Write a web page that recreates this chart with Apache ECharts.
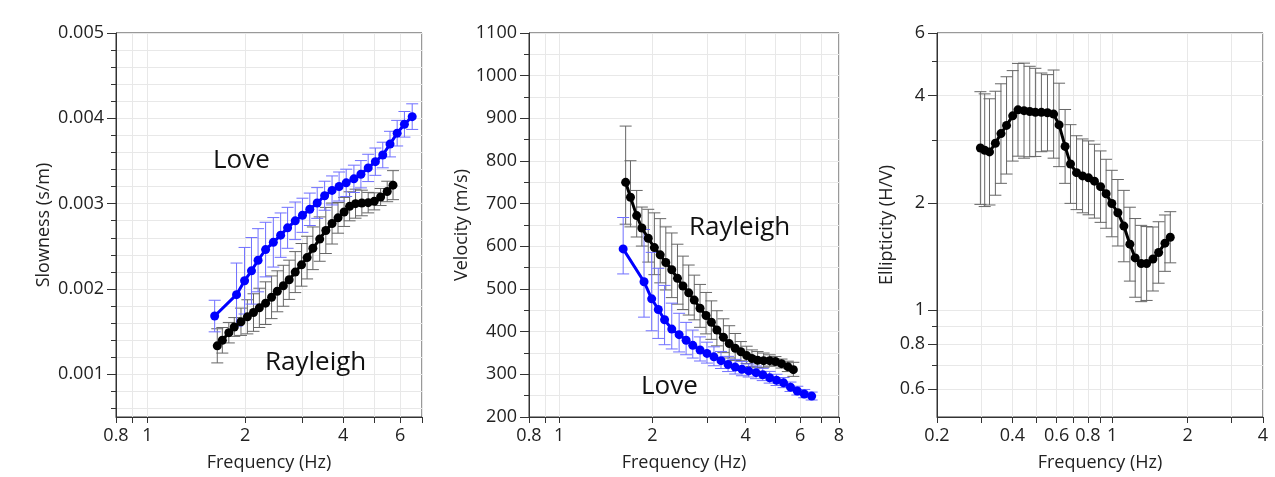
<!DOCTYPE html>
<html>
<head>
<meta charset="utf-8">
<script src="https://cdn.jsdelivr.net/npm/echarts@6/dist/echarts.min.js"></script>
<style>
html, body { margin: 0; padding: 0; background: #fff; }
#main { width: 1275px; height: 477px; }
</style>
</head>
<body>
<div id="main"></div>
<script>
// Rayleigh / Love dispersion curves + ellipticity
var rayFreq = [1.64, 1.70, 1.78, 1.85, 1.94, 2.03, 2.12, 2.21, 2.31, 2.41, 2.51, 2.62, 2.73, 2.85, 2.98,
    3.10, 3.23, 3.39, 3.54, 3.70, 3.86, 4.03, 4.19, 4.37, 4.57, 4.78, 4.99, 5.22, 5.47, 5.70];
var raySlow = [0.001334, 0.001399, 0.001488, 0.001555, 0.001616, 0.001674, 0.001724, 0.001779, 0.001834, 0.001903,
    0.001973, 0.002038, 0.002108, 0.002198, 0.002283, 0.002368, 0.002477, 0.002585, 0.002686, 0.002767,
    0.002834, 0.002903, 0.002969, 0.003000, 0.003008, 0.003012, 0.003027, 0.003078, 0.003143, 0.003217];
var raySlowStd = [0.00020, 0.00015, 0.00012, 0.00011, 0.00016, 0.00020, 0.00022, 0.00023, 0.00025, 0.00025,
    0.00024, 0.00024, 0.00023, 0.00024, 0.00025, 0.00025, 0.00025, 0.00026, 0.00027, 0.00024,
    0.00018, 0.00017, 0.00017, 0.00017, 0.00015, 0.00012, 0.00010, 0.00010, 0.00012, 0.00017];
var rayVel = [750, 715, 672, 643, 619, 597, 580, 562, 545, 525, 507, 491, 474, 455, 438,
    422, 404, 387, 372, 361, 353, 344, 337, 333, 332, 332, 330, 325, 318, 311];

var loveFreq = [1.61, 1.88, 1.99, 2.09, 2.19, 2.31, 2.44, 2.57, 2.70, 2.85, 3.00, 3.16, 3.33, 3.51, 3.70,
    3.89, 4.09, 4.32, 4.54, 4.78, 5.03, 5.30, 5.58, 5.87, 6.18, 6.53];
var loveSlow = [0.001683, 0.001934, 0.002097, 0.002213, 0.002337, 0.002462, 0.002547, 0.002631, 0.002717, 0.002799,
    0.002864, 0.002934, 0.003008, 0.003093, 0.003155, 0.003201, 0.003244, 0.003291, 0.003345, 0.003419,
    0.003492, 0.003570, 0.003698, 0.003826, 0.003930, 0.004020];
var loveSlowStd = [0.000185, 0.00037, 0.00039, 0.00039, 0.00037, 0.00032, 0.00029, 0.00026, 0.00024, 0.00022,
    0.00020, 0.00019, 0.00018, 0.00017, 0.00017, 0.00017, 0.00016, 0.00016, 0.00016, 0.00016,
    0.00016, 0.00015, 0.00015, 0.00015, 0.00015, 0.00015];
var loveVel = [594, 517, 477, 452, 428, 406, 393, 380, 368, 357, 349, 341, 332, 323, 317,
    312, 308, 304, 299, 292, 286, 280, 270, 261, 254, 249];

var ellFreq = [0.298, 0.310, 0.324, 0.342, 0.360, 0.379, 0.401, 0.421, 0.445, 0.469, 0.494, 0.522, 0.552, 0.584,
    0.614, 0.649, 0.682, 0.721, 0.762, 0.805, 0.850, 0.899, 0.946, 0.997, 1.054, 1.114, 1.177, 1.236,
    1.306, 1.373, 1.455, 1.533, 1.625, 1.706];
var ellVal = [2.85, 2.81, 2.78, 2.94, 3.13, 3.30, 3.51, 3.65, 3.63, 3.61, 3.59, 3.59, 3.58, 3.55,
    3.31, 2.88, 2.57, 2.43, 2.38, 2.35, 2.30, 2.22, 2.12, 1.99, 1.875, 1.72, 1.53, 1.40,
    1.35, 1.35, 1.39, 1.45, 1.54, 1.60];
var ellStdFactor = [1.44, 1.44, 1.41, 1.40, 1.38, 1.37, 1.34, 1.35, 1.36, 1.34, 1.33, 1.29, 1.28, 1.33,
    1.31, 1.27, 1.29, 1.27, 1.27, 1.27, 1.27, 1.26, 1.25, 1.24, 1.24, 1.26, 1.27, 1.29,
    1.28, 1.27, 1.23, 1.22, 1.20, 1.18];

// tick labels / tick positions
var freqTicks1 = [0.8, 0.9, 1, 2, 3, 4, 5, 6, 7];
var freqLabels1 = [0.8, 1, 2, 4, 6];
var freqTicks2 = [0.8, 0.9, 1, 2, 3, 4, 5, 6, 7, 8];
var freqLabels2 = [0.8, 1, 2, 4, 6, 8];
var freqTicks3 = [0.2, 0.3, 0.4, 0.5, 0.6, 0.7, 0.8, 0.9, 1, 2, 3, 4];
var freqLabels3 = [0.2, 0.4, 0.6, 0.8, 1, 2, 4];
var slowLabels = [0.001, 0.002, 0.003, 0.004, 0.005];
var slowTicks = [0.0006, 0.0008, 0.001, 0.0012, 0.0014, 0.0016, 0.0018, 0.002, 0.0022, 0.0024, 0.0026, 0.0028,
    0.003, 0.0032, 0.0034, 0.0036, 0.0038, 0.004, 0.0042, 0.0044, 0.0046, 0.0048, 0.005];
var ellLabels = [0.6, 0.8, 1, 2, 4, 6];
var ellTicks = [0.6, 0.7, 0.8, 0.9, 1, 2, 3, 4, 5, 6];

var FONT = 'Open Sans';
var AXIS_COLOR = '#333';
var GRID_COLOR = '#e8e8e8';
var BLUE = '#0000ff';

function lineData(xs, ys) {
    var out = [];
    for (var i = 0; i < xs.length; i++) out.push([xs[i], ys[i]]);
    return out;
}

// error bars in slowness
function slowBars(xs, s, sd) {
    var out = [];
    for (var i = 0; i < xs.length; i++) out.push([xs[i], s[i] - sd[i], s[i] + sd[i]]);
    return out;
}
// same bars seen as velocity
function velBars(xs, s, sd) {
    var out = [];
    for (var i = 0; i < xs.length; i++) out.push([xs[i], 1 / (s[i] + sd[i]), 1 / (s[i] - sd[i])]);
    return out;
}
function ellBars(xs, v, f) {
    var out = [];
    for (var i = 0; i < xs.length; i++) out.push([xs[i], v[i] / f[i], v[i] * f[i]]);
    return out;
}

function errRender(color) {
    return function (params, api) {
        var x = api.value(0);
        var p1 = api.coord([x, api.value(1)]);
        var p2 = api.coord([x, api.value(2)]);
        var w = 6;
        var st = { stroke: color, lineWidth: 1 };
        return {
            type: 'group',
            children: [
                { type: 'line', shape: { x1: p1[0], y1: p1[1], x2: p2[0], y2: p2[1] }, style: st },
                { type: 'line', shape: { x1: p1[0] - w, y1: p1[1], x2: p1[0] + w, y2: p1[1] }, style: st },
                { type: 'line', shape: { x1: p2[0] - w, y1: p2[1], x2: p2[0] + w, y2: p2[1] }, style: st }
            ]
        };
    };
}

function errSeries(data, color, xi, yi) {
    return {
        type: 'custom', xAxisIndex: xi, yAxisIndex: yi, data: data,
        renderItem: errRender(color), encode: { x: 0, y: [1, 2] }, z: 2, silent: true
    };
}
function curveSeries(data, color, xi, yi) {
    return {
        type: 'line', xAxisIndex: xi, yAxisIndex: yi, data: data,
        symbol: 'circle', symbolSize: 9, showSymbol: true,
        lineStyle: { color: color, width: 3 }, itemStyle: { color: color }, z: 3, silent: true
    };
}

function plainNum(v) {
    return String(+(+v).toPrecision(6));
}

var labelStyle = { color: '#222', fontSize: 18, fontFamily: FONT };

function freqAxis(gi, min, max, ticks, labels) {
    return {
        type: 'log', logBase: 10, gridIndex: gi, min: min, max: max,
        name: 'Frequency (Hz)', nameLocation: 'middle', nameGap: 37,
        nameTextStyle: labelStyle,
        axisLine: { show: true, lineStyle: { color: AXIS_COLOR } },
        axisTick: { show: true, length: 6, customValues: ticks, lineStyle: { color: AXIS_COLOR } },
        axisLabel: Object.assign({ customValues: labels, margin: 10, formatter: plainNum }, labelStyle),
        splitLine: { show: true, lineStyle: { color: GRID_COLOR } }
    };
}

var textFont = '26px "Open Sans"';

var option = {
    animation: false,
    backgroundColor: '#fff',
    grid: [
        { left: 116, top: 33, width: 306, height: 386, show: true, borderColor: AXIS_COLOR, borderWidth: 1, backgroundColor: '#fff' },
        { left: 529, top: 33, width: 310, height: 386, show: true, borderColor: AXIS_COLOR, borderWidth: 1, backgroundColor: '#fff' },
        { left: 937, top: 33, width: 326, height: 386, show: true, borderColor: AXIS_COLOR, borderWidth: 1, backgroundColor: '#fff' }
    ],
    xAxis: [
        freqAxis(0, 0.8, 7, freqTicks1, freqLabels1),
        freqAxis(1, 0.8, 8, freqTicks2, freqLabels2),
        freqAxis(2, 0.2, 4, freqTicks3, freqLabels3)
    ],
    yAxis: [
        {   // slowness: labels + long ticks
            type: 'value', gridIndex: 0, min: 0.0005, max: 0.005, position: 'left',
            name: 'Slowness (s/m)', nameLocation: 'middle', nameGap: 63, nameTextStyle: labelStyle,
            axisLine: { show: true, lineStyle: { color: AXIS_COLOR } },
            axisTick: { show: true, length: 9, customValues: slowLabels, lineStyle: { color: AXIS_COLOR } },
            axisLabel: Object.assign({ customValues: slowLabels, margin: 12, formatter: plainNum }, labelStyle),
            splitLine: { show: false }
        },
        {   // slowness: minor ticks + grid
            type: 'value', gridIndex: 0, min: 0.0005, max: 0.005, position: 'left',
            axisLine: { show: false },
            axisTick: { show: true, length: 5, customValues: slowTicks, lineStyle: { color: AXIS_COLOR } },
            axisLabel: { show: false },
            splitLine: { show: true, lineStyle: { color: GRID_COLOR } }
        },
        {   // velocity
            type: 'value', gridIndex: 1, min: 200, max: 1100, interval: 100,
            name: 'Velocity (m/s)', nameLocation: 'middle', nameGap: 58, nameTextStyle: labelStyle,
            axisLine: { show: true, lineStyle: { color: AXIS_COLOR } },
            axisTick: { show: true, length: 9, lineStyle: { color: AXIS_COLOR } },
            minorTick: { show: true, splitNumber: 2, length: 5, lineStyle: { color: AXIS_COLOR } },
            axisLabel: Object.assign({ margin: 12, formatter: plainNum }, labelStyle),
            splitLine: { show: true, lineStyle: { color: GRID_COLOR } },
            minorSplitLine: { show: true, lineStyle: { color: GRID_COLOR } }
        },
        {   // ellipticity labels
            type: 'log', logBase: 10, gridIndex: 2, min: 0.5, max: 6, position: 'left',
            name: 'Ellipticity (H/V)', nameLocation: 'middle', nameGap: 41, nameTextStyle: labelStyle,
            axisLine: { show: true, lineStyle: { color: AXIS_COLOR } },
            axisTick: { show: true, length: 9, customValues: ellLabels, lineStyle: { color: AXIS_COLOR } },
            axisLabel: Object.assign({ customValues: ellLabels, margin: 12, formatter: plainNum }, labelStyle),
            splitLine: { show: false }
        },
        {   // ellipticity minor ticks + grid
            type: 'log', logBase: 10, gridIndex: 2, min: 0.5, max: 6, position: 'left',
            axisLine: { show: false },
            axisTick: { show: true, length: 5, customValues: ellTicks, lineStyle: { color: AXIS_COLOR } },
            axisLabel: { show: false },
            splitLine: { show: true, lineStyle: { color: GRID_COLOR } }
        }
    ],
    graphic: [
        { type: 'text', z: 100, left: 213, top: 148, style: { text: 'Love', font: textFont, fill: '#111' } },
        { type: 'text', left: 265, z: 100, top: 350, style: { text: 'Rayleigh', font: textFont, fill: '#111' } },
        { type: 'text', left: 689, z: 100, top: 215, style: { text: 'Rayleigh', font: textFont, fill: '#111' } },
        { type: 'text', left: 641, z: 100, top: 374, style: { text: 'Love', font: textFont, fill: '#111' } }
    ],
    series: [
        errSeries(slowBars(rayFreq, raySlow, raySlowStd), '#666', 0, 0),
        errSeries(slowBars(loveFreq, loveSlow, loveSlowStd), '#6f6fff', 0, 0),
        curveSeries(lineData(rayFreq, raySlow), '#000', 0, 0),
        curveSeries(lineData(loveFreq, loveSlow), BLUE, 0, 0),

        errSeries(velBars(rayFreq, raySlow, raySlowStd), '#666', 1, 2),
        errSeries(velBars(loveFreq, loveSlow, loveSlowStd), '#6f6fff', 1, 2),
        curveSeries(lineData(rayFreq, rayVel), '#000', 1, 2),
        curveSeries(lineData(loveFreq, loveVel), BLUE, 1, 2),

        errSeries(ellBars(ellFreq, ellVal, ellStdFactor), '#666', 2, 3),
        curveSeries(lineData(ellFreq, ellVal), '#000', 2, 3)
    ]
};

var chart = echarts.init(document.getElementById('main'));
chart.setOption(option);
</script>
</body>
</html>
